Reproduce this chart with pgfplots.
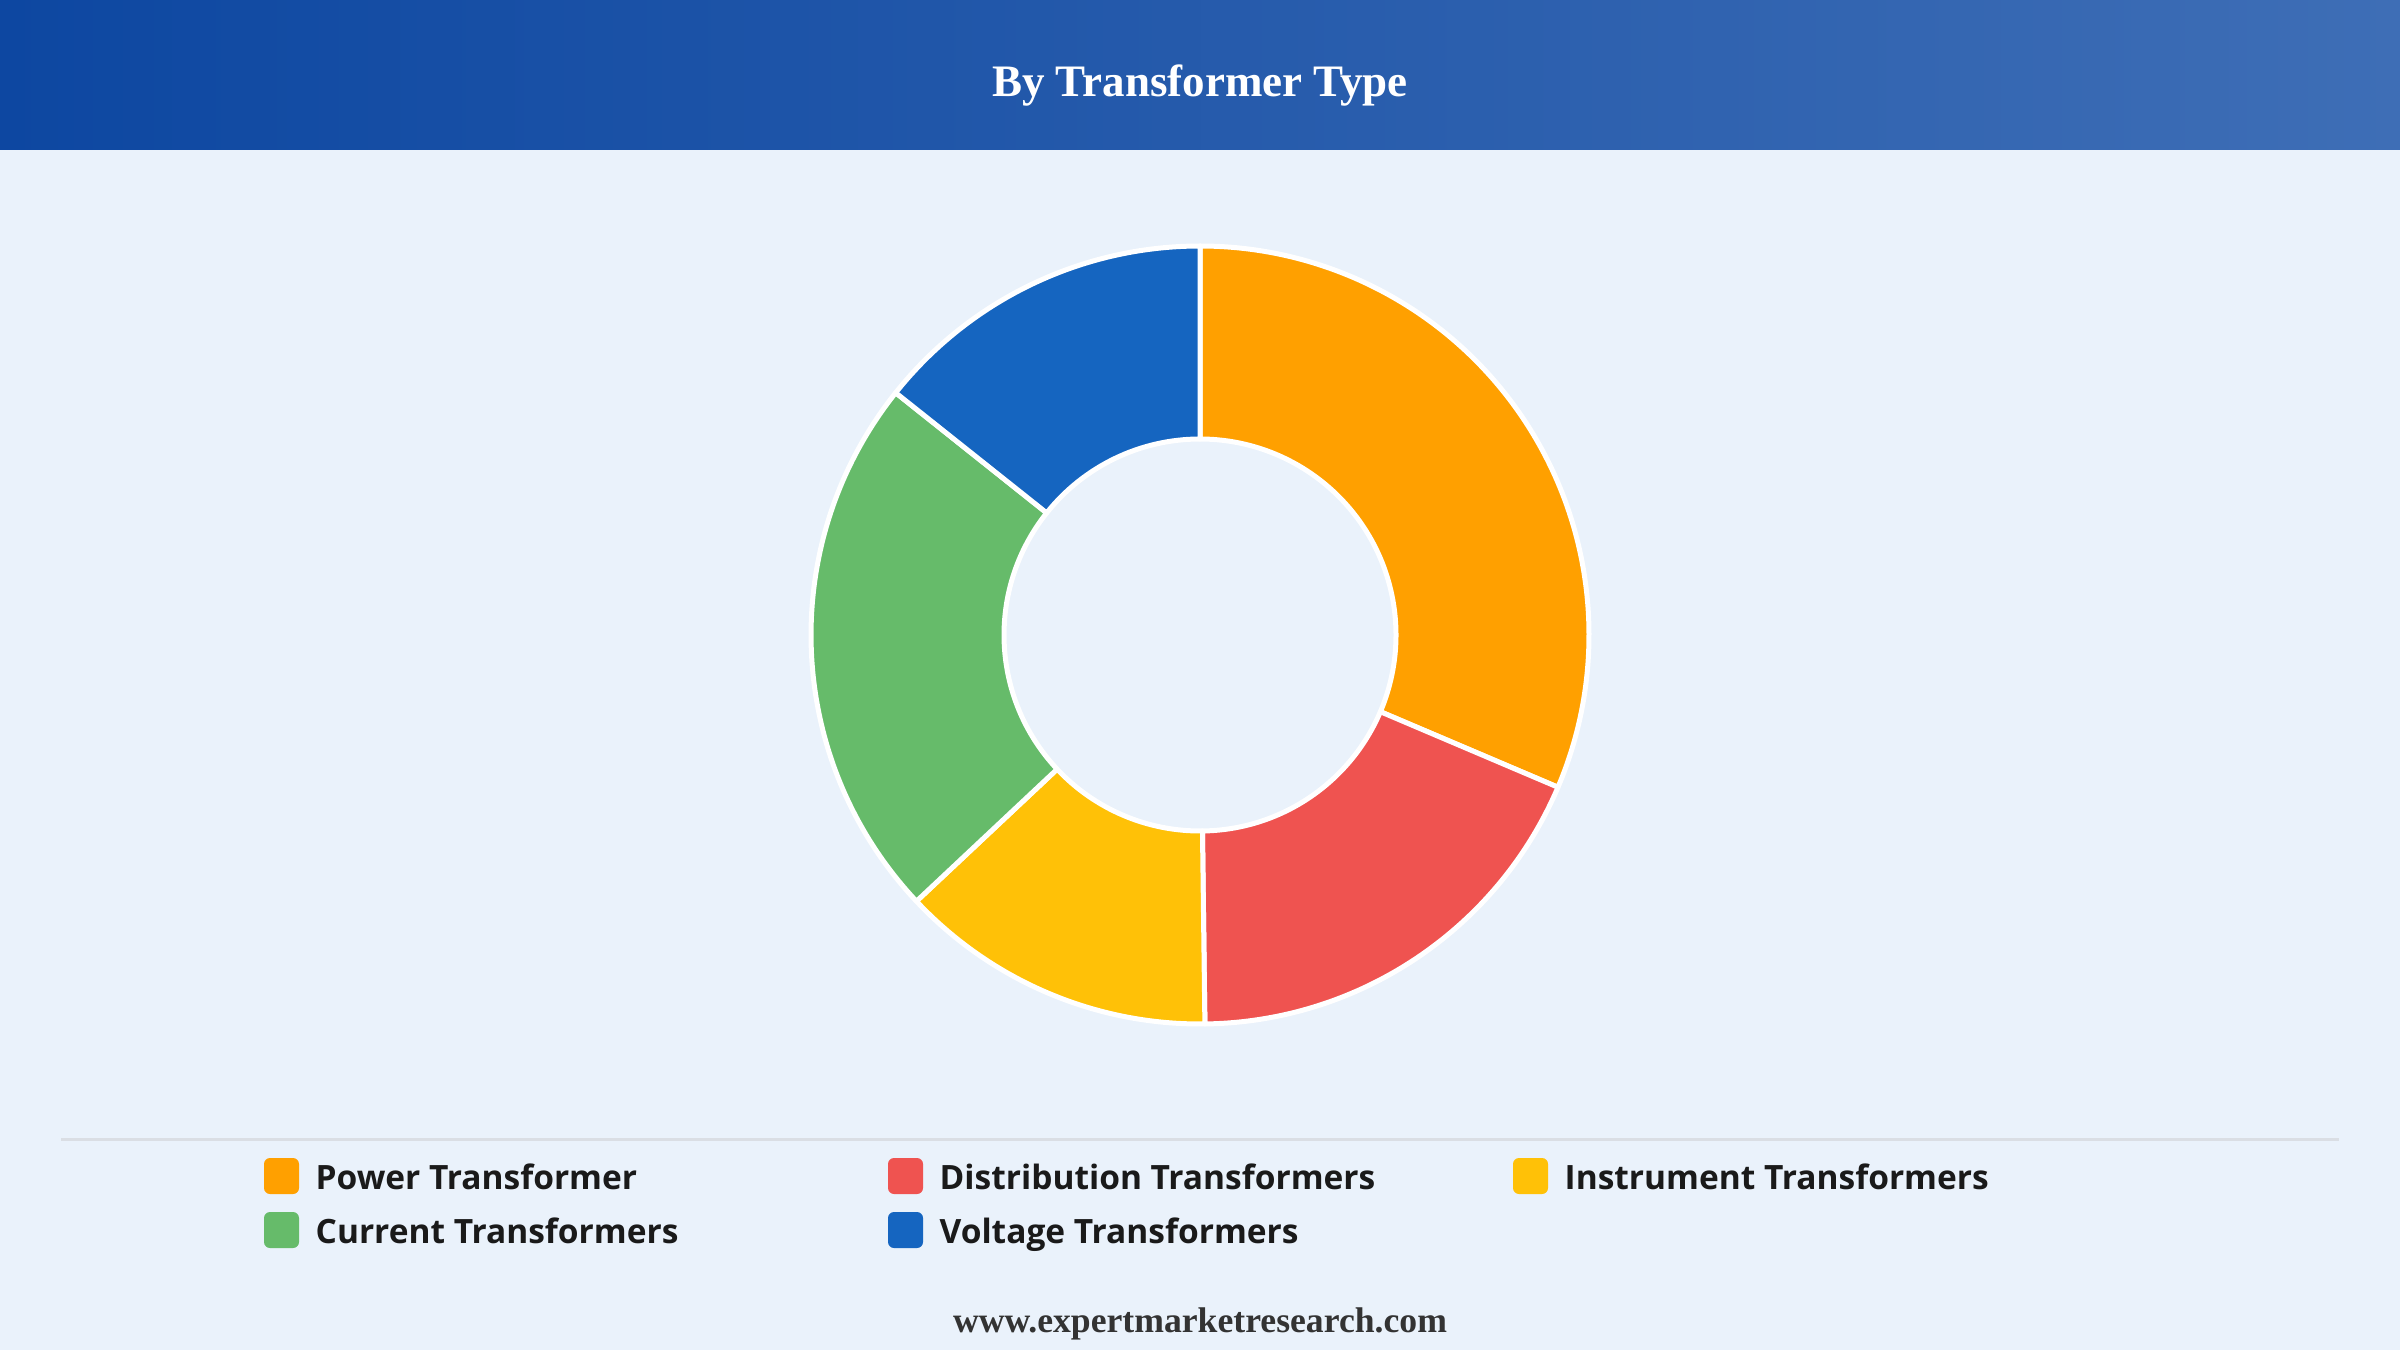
\documentclass[border=0pt]{standalone}
\usepackage{fontspec}
\setmainfont{Liberation Serif}
\newfontfamily\legendfont{Open Sans}
\usepackage{pgfplots}
\usepackage{pgfplotstable}
\pgfplotsset{compat=1.18}

\definecolor{bg}{RGB}{234,242,251}
\definecolor{hdrL}{RGB}{13,71,161}
\definecolor{hdrR}{RGB}{62,110,182}
\definecolor{cPower}{RGB}{255,160,0}
\definecolor{cDist}{RGB}{239,83,80}
\definecolor{cInst}{RGB}{255,193,7}
\definecolor{cCurr}{RGB}{102,187,106}
\definecolor{cVolt}{RGB}{21,101,192}
\definecolor{sep}{RGB}{218,222,228}
\definecolor{txt}{RGB}{26,26,26}
\definecolor{foot}{RGB}{51,51,51}

\pgfplotstableread[col sep=comma]{
name,value
Power Transformer,31.4
Distribution Transformers,18.4
Instrument Transformers,13.2
Current Transformers,22.7
Voltage Transformers,14.3
}\shares

\newcommand\seg[3]{%
  \fill[#1, draw=white, line width=1.5pt, line join=round]
    (axis cs:1200,715) ++(#2:116.7pt)
    arc[start angle=#2, end angle=#3, radius=116.7pt]
    -- ++(#3+180:57.9pt)
    arc[start angle=#3, end angle=#2, radius=58.8pt] -- cycle;}

\newcommand\legitem[4]{%
  \fill[#3, rounded corners=1.8pt] (axis cs:#1,#2+18) rectangle (axis cs:#1+35,#2-18);
  \node[anchor=base west, inner sep=0pt, text=txt, font=\legendfont\bfseries\fontsize{10.05}{12}\selectfont]
    at (axis cs:#1+51,#2-13) {#4};}

\begin{document}%
\begin{tikzpicture}
\pgfplotstablegetelem{0}{value}\of\shares \let\vA\pgfplotsretval
\pgfplotstablegetelem{1}{value}\of\shares \let\vB\pgfplotsretval
\pgfplotstablegetelem{2}{value}\of\shares \let\vC\pgfplotsretval
\pgfplotstablegetelem{3}{value}\of\shares \let\vD\pgfplotsretval
\pgfplotstablegetelem{4}{value}\of\shares \let\vE\pgfplotsretval
\pgfmathsetmacro\tot{\vA+\vB+\vC+\vD+\vE}
\pgfmathsetmacro\aA{90}
\pgfmathsetmacro\aB{\aA-360*\vA/\tot}
\pgfmathsetmacro\aC{\aB-360*\vB/\tot}
\pgfmathsetmacro\aD{\aC-360*\vC/\tot}
\pgfmathsetmacro\aE{\aD-360*\vD/\tot}
\pgfmathsetmacro\aF{\aE-360*\vE/\tot}
\begin{axis}[
  width=720pt, height=405pt, scale only axis,
  xmin=0, xmax=2400, ymin=0, ymax=1350,
  hide axis, clip=false]
  % background
  \fill[bg] (axis cs:0,0) rectangle (axis cs:2400,1350);
  \shade[left color=hdrL, right color=hdrR] (axis cs:0,1200) rectangle (axis cs:2400,1350);
  \node[anchor=base, inner sep=0pt, text=white, font=\bfseries\fontsize{13.5}{16}\selectfont]
    at (axis cs:1200,1253) {By Transformer Type};
  % donut
  \seg{cPower}{\aA}{\aB}
  \seg{cDist}{\aB}{\aC}
  \seg{cInst}{\aC}{\aD}
  \seg{cCurr}{\aD}{\aE}
  \seg{cVolt}{\aE}{\aF}
  % separator
  \draw[sep, line width=0.9pt] (axis cs:61,211) -- (axis cs:2339,211);
  % legend
  \legitem{264}{174}{cPower}{Power Transformer}
  \legitem{888}{174}{cDist}{Distribution Transformers}
  \legitem{1513}{174}{cInst}{Instrument Transformers}
  \legitem{264}{120}{cCurr}{Current Transformers}
  \legitem{888}{120}{cVolt}{Voltage Transformers}
  % footer
  \node[anchor=base, inner sep=0pt, text=foot, font=\bfseries\fontsize{10.7}{13}\selectfont]
    at (axis cs:1200,18) {www.expertmarketresearch.com};
\end{axis}
\end{tikzpicture}%
\end{document}
